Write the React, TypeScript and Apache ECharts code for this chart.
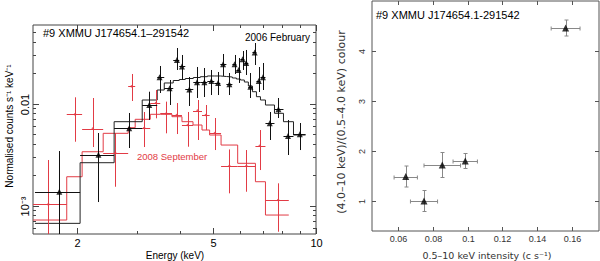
import React, { useEffect, useRef } from 'react';
import * as echarts from 'echarts';

// ---------- Left panel: spectra ----------
// 2006 February (black triangles)
const febEnergy = [1.775, 2.311, 2.844, 3.256, 3.49, 3.735, 3.925, 4.06, 4.266, 4.494, 4.722, 4.95, 5.18, 5.358, 5.591, 5.79, 5.949, 6.111, 6.262, 6.442, 6.633, 6.816, 7.012, 7.342, 7.786, 8.302, 8.992];
const febBinLo = [1.506, 2.042, 2.569, 3.105, 3.436, 3.603, 3.828, 3.987, 4.152, 4.383, 4.595, 4.818, 5.051, 5.26, 5.479, 5.705, 5.861, 6.022, 6.186, 6.355, 6.531, 6.71, 6.895, 7.132, 7.579, 8.054, 8.617];
const febBinHi = [2.042, 2.569, 3.105, 3.436, 3.603, 3.828, 3.987, 4.152, 4.383, 4.595, 4.818, 5.051, 5.26, 5.479, 5.705, 5.861, 6.022, 6.186, 6.355, 6.531, 6.71, 6.895, 7.132, 7.579, 8.054, 8.617, 9.346];
const febCounts = [0.001365, 0.003148, 0.005712, 0.009667, 0.01806, 0.01409, 0.0267, 0.02305, 0.01372, 0.01613, 0.01613, 0.01661, 0.01589, 0.02428, 0.01542, 0.02428, 0.0213, 0.02712, 0.02495, 0.01461, 0.03162, 0.01661, 0.01806, 0.006397, 0.008792, 0.004802, 0.004989];
const febCountsLo = [0.000459, 0.001082, 0.003662, 0.00689, 0.01267, 0.009667, 0.0213, 0.01699, 0.009452, 0.01132, 0.01158, 0.01211, 0.01211, 0.01861, 0.01211, 0.01946, 0.01589, 0.0213, 0.01903, 0.01132, 0.02384, 0.01296, 0.01356, 0.004387, 0.007209, 0.003127, 0.003499];
const febCountsHi = [0.003421, 0.005137, 0.008071, 0.01305, 0.02331, 0.01699, 0.03499, 0.02988, 0.01819, 0.02279, 0.02228, 0.0213, 0.02036, 0.03057, 0.01991, 0.02988, 0.02793, 0.0327, 0.03345, 0.01991, 0.03917, 0.02279, 0.02495, 0.008255, 0.01132, 0.00689, 0.00644];
const febModel = [0.000669, 0.002628, 0.006632, 0.01082, 0.01356, 0.01589, 0.0168, 0.01719, 0.01758, 0.01798, 0.01831, 0.01861, 0.01861, 0.01839, 0.01819, 0.01778, 0.01738, 0.01699, 0.01624, 0.01484, 0.01305, 0.01166, 0.01082, 0.009667, 0.008016, 0.006632, 0.004911];

// 2008 September (red)
const sepEnergy = [1.648, 1.974, 2.225, 2.587, 2.892, 3.147, 3.407, 3.652, 3.92, 4.222, 4.512, 4.77, 5.069, 5.591, 6.271, 6.862, 7.77];
const sepBinLo = [1.486, 1.866, 2.07, 2.386, 2.824, 2.961, 3.278, 3.507, 3.795, 4.06, 4.374, 4.648, 4.893, 5.286, 5.913, 6.665, 7.132];
const sepBinHi = [1.866, 2.07, 2.386, 2.824, 2.961, 3.278, 3.507, 3.795, 4.06, 4.374, 4.648, 4.893, 5.286, 5.913, 6.665, 7.132, 8.348];
const sepCounts = [0.001027, 0.007836, 0.005686, 0.003292, 0.01474, 0.005751, 0.01011, 0.00798, 0.007714, 0.006155, 0.008538, 0.007714, 0.005137, 0.00244, 0.00244, 0.003856, 0.001132];
const sepCountsLo = [0.000459, 0.004221, 0.003745, 0.001528, 0.01058, 0.003745, 0.00716, 0.005102, 0.00502, 0.00377, 0.004387, 0.005497, 0.003499, 0.001317, 0.001365, 0.002228, 0.0005535];
const sepCountsHi = [0.002793, 0.0115, 0.01132, 0.005137, 0.01946, 0.008255, 0.01356, 0.01043, 0.01011, 0.008255, 0.01082, 0.009667, 0.007209, 0.003546, 0.003499, 0.005497, 0.001651];
const sepModel = [0.000721, 0.001915, 0.003367, 0.005102, 0.00579, 0.006999, 0.007836, 0.007836, 0.007424, 0.006632, 0.006155, 0.005497, 0.004911, 0.003917, 0.002593, 0.001711, 0.000807];

// Left panel ticks
const energyMajorTicks = [2, 5, 10];
const energyTickLabels = ['2', '5', '10'];
const energyMinorTicks = [3, 4, 6, 7, 8, 9];
const countsMajorTicks = [0.001, 0.01];
const countsTickLabels = ['10\u207B\u00B3', '0.01'];
const countsMinorTicks = [0.0006, 0.0007, 0.0008, 0.0009, 0.002, 0.003, 0.004, 0.005, 0.006, 0.007, 0.008, 0.009, 0.02, 0.03, 0.04, 0.05];

// ---------- Right panel: colour vs intensity ----------
const intensity = [0.0644, 0.0749, 0.0854, 0.0986, 0.1563];
const intensityErr = [0.0067, 0.0078, 0.0105, 0.007, 0.0083];
const colour = [1.49, 1.0, 1.72, 1.8, 4.46];
const colourErr = [0.21, 0.21, 0.25, 0.15, 0.16];
const intensityTicks = [0.06, 0.08, 0.1, 0.12, 0.14, 0.16];
const intensityTickLabels = ['0.06', '0.08', '0.1', '0.12', '0.14', '0.16'];
const colourTicks = [1, 2, 3, 4];
const colourTickLabels = ['1', '2', '3', '4'];

const FONT = '"Liberation Sans", Arial, Helvetica, sans-serif';
const FONT2 = '"DejaVu Sans", Verdana, sans-serif';
const RED = '#e23b45';
const BLACK = '#111';

function frameSeries(cfg: any) {
  return {
    type: 'custom',
    xAxisIndex: cfg.xi,
    yAxisIndex: cfg.yi,
    silent: true,
    z: 6,
    data: [[cfg.xRef, cfg.yRef]],
    renderItem: (params: any, api: any) => {
      const cs = params.coordSys;
      const L = cs.x, T = cs.y, R = cs.x + cs.width, B = cs.y + cs.height;
      const ch: any[] = [];
      const ln = (x1: number, y1: number, x2: number, y2: number) =>
        ch.push({ type: 'line', shape: { x1, y1, x2, y2 }, style: { stroke: cfg.tickColor, lineWidth: 1 } });
      const X = (v: number) => Math.round(api.coord([v, cfg.yRef])[0]) + 0.5;
      const Y = (v: number) => Math.round(api.coord([cfg.xRef, v])[1]) + 0.5;
      cfg.xMajor.forEach((v: number) => { const x = X(v); ln(x, B, x, B - cfg.majorLen); ln(x, T, x, T + cfg.majorLen); });
      cfg.xMinor.forEach((v: number) => { const x = X(v); ln(x, B, x, B - cfg.minorLen); ln(x, T, x, T + cfg.minorLen); });
      cfg.yMajor.forEach((v: number) => { const y = Y(v); ln(L, y, L + cfg.majorLen, y); ln(R, y, R - cfg.majorLen, y); });
      cfg.yMinor.forEach((v: number) => { const y = Y(v); ln(L, y, L + cfg.minorLen, y); ln(R, y, R - cfg.minorLen, y); });
      cfg.xMajor.forEach((v: number, i: number) => {
        const t = cfg.xLabels[i];
        if (!t) return;
        ch.push({
          type: 'text', x: X(v), y: B + cfg.xGap,
          style: { text: t, font: cfg.font, fill: cfg.labelColor, align: 'center', textAlign: 'center', verticalAlign: 'middle', textVerticalAlign: 'middle' },
        });
      });
      cfg.yMajor.forEach((v: number, i: number) => {
        const t = cfg.yLabels[i];
        if (!t) return;
        ch.push({
          type: 'text', x: L - cfg.yGap, y: Y(v), rotation: Math.PI / 2,
          style: { text: t, font: cfg.font, fill: cfg.labelColor, align: 'center', textAlign: 'center', verticalAlign: 'middle', textVerticalAlign: 'middle' },
        });
      });
      return { type: 'group', children: ch };
    },
  };
}

function errorSeries(xi: number, yi: number, rows: number[][], color: string, cap: number, z: number) {
  return {
    type: 'custom',
    xAxisIndex: xi,
    yAxisIndex: yi,
    silent: true,
    z,
    encode: { x: 0, y: 1 },
    data: rows,
    renderItem: (params: any, api: any) => {
      const cs = params.coordSys;
      const L = cs.x, T = cs.y, R = cs.x + cs.width, B = cs.y + cs.height;
      const cl = (v: number, a: number, b: number) => Math.max(a, Math.min(b, v));
      const c = api.coord([api.value(0), api.value(1)]);
      const xl = cl(api.coord([api.value(2), api.value(1)])[0], L, R);
      const xh = cl(api.coord([api.value(3), api.value(1)])[0], L, R);
      const yl = cl(api.coord([api.value(0), api.value(4)])[1], T, B);
      const yh = cl(api.coord([api.value(0), api.value(5)])[1], T, B);
      const cx = Math.round(c[0]) + 0.5;
      const cy = Math.round(c[1]) + 0.5;
      const st = { stroke: color, lineWidth: 1 };
      const ch: any[] = [
        { type: 'line', shape: { x1: xl, y1: cy, x2: xh, y2: cy }, style: st },
        { type: 'line', shape: { x1: cx, y1: yl, x2: cx, y2: yh }, style: st },
      ];
      if (cap > 0) {
        ch.push({ type: 'line', shape: { x1: xl, y1: cy - cap, x2: xl, y2: cy + cap }, style: st });
        ch.push({ type: 'line', shape: { x1: xh, y1: cy - cap, x2: xh, y2: cy + cap }, style: st });
        ch.push({ type: 'line', shape: { x1: cx - cap, y1: yl, x2: cx + cap, y2: yl }, style: st });
        ch.push({ type: 'line', shape: { x1: cx - cap, y1: yh, x2: cx + cap, y2: yh }, style: st });
      }
      return { type: 'group', children: ch };
    },
  };
}

function stepData(lo: number[], hi: number[], m: number[]) {
  const out: number[][] = [];
  m.forEach((v, i) => { out.push([lo[i], v]); out.push([hi[i], v]); });
  return out;
}

function buildOption() {
  const febRows = febEnergy.map((e, i) => [e, febCounts[i], febBinLo[i], febBinHi[i], febCountsLo[i], febCountsHi[i]]);
  const sepRows = sepEnergy.map((e, i) => [e, sepCounts[i], sepBinLo[i], sepBinHi[i], sepCountsLo[i], sepCountsHi[i]]);
  const colRows = intensity.map((x, i) => [x, colour[i], x - intensityErr[i], x + intensityErr[i], colour[i] - colourErr[i], colour[i] + colourErr[i]]);
  const hidden = { axisLine: { show: false }, axisTick: { show: false }, axisLabel: { show: false }, splitLine: { show: false } };
  const txt = (text: string, x: number, y: number, font: string, fill: string, align: string, rot = 0) => ({
    type: 'text', x, y, rotation: rot, silent: true,
    style: { text, font, fill, align, textAlign: align, verticalAlign: 'middle', textVerticalAlign: 'middle' },
  });
  return {
    animation: false,
    backgroundColor: '#fff',
    grid: [
      { left: 33, top: 25, width: 283, height: 209, show: true, borderColor: '#444', borderWidth: 1, backgroundColor: 'transparent' },
      { left: 372, top: 1, width: 227, height: 230, show: true, borderColor: '#555', borderWidth: 1, backgroundColor: 'transparent' },
    ],
    xAxis: [
      { type: 'log', logBase: 10, gridIndex: 0, min: 1.486, max: 10.03, ...hidden },
      { type: 'value', gridIndex: 1, min: 0.045, max: 0.1755, ...hidden },
    ],
    yAxis: [
      { type: 'log', logBase: 10, gridIndex: 0, min: 0.000526, max: 0.0588, ...hidden },
      { type: 'value', gridIndex: 1, min: 0.4, max: 5, ...hidden },
    ],
    graphic: [
      txt('#9 XMMU J174654.1\u2013291542', 43, 33, '11px ' + FONT, '#000', 'left'),
      txt('2006 February', 310, 37, '10px ' + FONT, '#000', 'right'),
      txt('2008 September', 137, 156, '9.5px ' + FONT, RED, 'left'),
      txt('Energy (keV)', 175, 255, '10px ' + FONT, '#000', 'center'),
      txt('Normalised counts s\u207B\u00B9 keV\u207B\u00B9', 9, 126, '10px ' + FONT, '#000', 'center', Math.PI / 2),
      txt('#9 XMMU J174654.1-291542', 376, 15, '11px ' + FONT, '#000', 'left'),
      txt('0.5\u201310 keV intensity (c s\u207B\u00B9)', 487, 255, '9.5px ' + FONT2, '#333', 'center'),
      txt('(4.0\u201310 keV)/(0.5\u20134.0 keV) colour', 341, 122, '11px ' + FONT2, '#333', 'center', Math.PI / 2),
    ],
    series: [
      frameSeries({
        xi: 0, yi: 0, xRef: 2, yRef: 0.001, tickColor: '#444', labelColor: '#000', font: '11px ' + FONT,
        xMajor: energyMajorTicks, xLabels: energyTickLabels, xMinor: energyMinorTicks,
        yMajor: countsMajorTicks, yLabels: countsTickLabels, yMinor: countsMinorTicks,
        majorLen: 6, minorLen: 3, xGap: 9, yGap: 8,
      }),
      frameSeries({
        xi: 1, yi: 1, xRef: 0.1, yRef: 1, tickColor: '#555', labelColor: '#333', font: '9px ' + FONT,
        xMajor: intensityTicks, xLabels: intensityTickLabels, xMinor: [],
        yMajor: colourTicks, yLabels: colourTickLabels, yMinor: [],
        majorLen: 4, minorLen: 2, xGap: 8, yGap: 10,
      }),
      {
        type: 'line', xAxisIndex: 0, yAxisIndex: 0, data: stepData(sepBinLo, sepBinHi, sepModel),
        symbol: 'none', showSymbol: false, silent: true, clip: true, z: 2,
        lineStyle: { color: RED, width: 1 },
      },
      {
        type: 'line', xAxisIndex: 0, yAxisIndex: 0, data: stepData(febBinLo, febBinHi, febModel),
        symbol: 'none', showSymbol: false, silent: true, clip: true, z: 2,
        lineStyle: { color: '#222', width: 1 },
      },
      errorSeries(0, 0, sepRows, RED, 0, 3),
      errorSeries(0, 0, febRows, BLACK, 0, 4),
      {
        type: 'scatter', xAxisIndex: 0, yAxisIndex: 0, silent: true, z: 5,
        data: sepEnergy.map((e, i) => [e, sepCounts[i]]),
        symbol: 'circle', symbolSize: 2.5, itemStyle: { color: RED },
      },
      {
        type: 'scatter', xAxisIndex: 0, yAxisIndex: 0, silent: true, z: 5,
        data: febEnergy.map((e, i) => [e, febCounts[i]]),
        symbol: 'triangle', symbolSize: 6, itemStyle: { color: '#000' },
      },
      errorSeries(1, 1, colRows, '#888', 2, 3),
      {
        type: 'scatter', xAxisIndex: 1, yAxisIndex: 1, silent: true, z: 5,
        data: intensity.map((x, i) => [x, colour[i]]),
        symbol: 'triangle', symbolSize: 7, itemStyle: { color: '#000' },
      },
    ],
  };
}

export default function App() {
  const ref = useRef<HTMLDivElement>(null);
  useEffect(() => {
    document.body.style.margin = '0';
    if (!ref.current) return;
    const chart = echarts.init(ref.current, undefined, { renderer: 'svg' });
    chart.setOption(buildOption() as any);
    return () => chart.dispose();
  }, []);
  return <div ref={ref} style={{ width: 600, height: 261 }} />;
}
